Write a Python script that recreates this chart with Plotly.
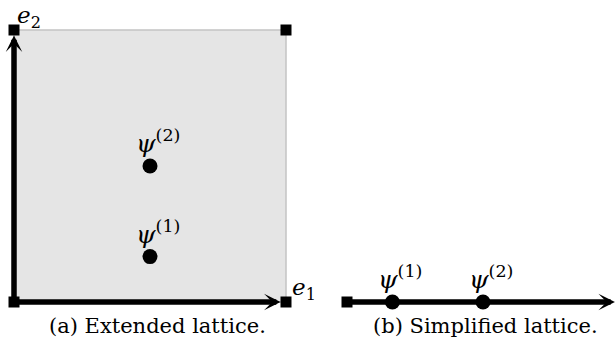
import plotly.graph_objects as go

# ---- data (lattice units) ----
corner_x = [0, 1, 0, 1]
corner_y = [0, 0, 1, 1]
psi_x = [0.5, 0.5]
psi_y = [0.167, 0.5]
psi_labels = ["<i>ψ</i><sup>(1)</sup>", "<i>ψ</i><sup>(2)</sup>"]
axis_labels = ["<i>e</i><sub>1</sub>", "<i>e</i><sub>2</sub>"]
line_start = [0]
line_end = 0.985
captions = ["(a) Extended lattice.", "(b) Simplified lattice."]

SERIF = "DejaVu Serif"

fig = go.Figure()

fig.add_trace(go.Scatter(x=corner_x, y=corner_y, mode="markers", xaxis="x", yaxis="y",
                         marker=dict(symbol="square", size=11, color="black"),
                         showlegend=False, hoverinfo="skip"))
fig.add_trace(go.Scatter(x=psi_x, y=psi_y, mode="markers", xaxis="x", yaxis="y",
                         marker=dict(symbol="circle", size=15, color="black"),
                         showlegend=False, hoverinfo="skip"))
fig.add_trace(go.Scatter(x=line_start, y=[0], mode="markers", xaxis="x2", yaxis="y",
                         marker=dict(symbol="square", size=11, color="black"),
                         showlegend=False, hoverinfo="skip"))
fig.add_trace(go.Scatter(x=psi_y, y=[0] * len(psi_y), mode="markers", xaxis="x2", yaxis="y",
                         marker=dict(symbol="circle", size=15, color="black"),
                         showlegend=False, hoverinfo="skip"))

fig.add_shape(type="rect", xref="x", yref="y", x0=0, x1=1, y0=0, y1=1,
              fillcolor="#e5e5e5", line=dict(color="#c4c4c4", width=1.5), layer="below")

ann = []
arrow_style = dict(showarrow=True, arrowhead=3, arrowsize=0.5, arrowwidth=5.5,
                   arrowcolor="black", text="", standoff=0)
ann.append(dict(x=0, y=0.98, ax=0, ay=0, xref="x", yref="y", axref="x", ayref="y", **arrow_style))
ann.append(dict(x=0.98, y=0, ax=0, ay=0, xref="x", yref="y", axref="x", ayref="y", **arrow_style))
ann.append(dict(x=line_end, y=0, ax=0, ay=0, xref="x2", yref="y", axref="x2", ayref="y", **arrow_style))

ann.append(dict(x=1, y=0, xref="x", yref="y", text=axis_labels[0], showarrow=False,
                xanchor="left", yanchor="middle", xshift=4, yshift=13,
                font=dict(family=SERIF, size=23, color="black")))
ann.append(dict(x=0, y=1, xref="x", yref="y", text=axis_labels[1], showarrow=False,
                xanchor="left", yanchor="middle", xshift=1, yshift=13,
                font=dict(family=SERIF, size=23, color="black")))

for px, py, lab in zip(psi_x, psi_y, psi_labels):
    ann.append(dict(x=px, y=py, xref="x", yref="y", text=lab, showarrow=False,
                    xanchor="center", yanchor="bottom", xshift=8, yshift=6,
                    font=dict(family=SERIF, size=25, color="black")))
for pt, lab in zip(psi_y, psi_labels):
    ann.append(dict(x=pt, y=0, xref="x2", yref="y", text=lab, showarrow=False,
                    xanchor="center", yanchor="bottom", xshift=8, yshift=6,
                    font=dict(family=SERIF, size=25, color="black")))

for cx, cap in zip([157 / 615, 485 / 615], captions):
    ann.append(dict(x=cx, y=1 - 326 / 340, xref="paper", yref="paper", text=cap,
                    showarrow=False, xanchor="center", yanchor="middle",
                    font=dict(family=SERIF, size=21, color="black")))

hidden = dict(visible=False, showgrid=False, zeroline=False, fixedrange=True)
fig.update_layout(
    width=615, height=340,
    margin=dict(l=0, r=0, t=0, b=0),
    paper_bgcolor="white", plot_bgcolor="white",
    xaxis=dict(range=[-14 / 272, 601 / 272], domain=[0, 1], **hidden),
    xaxis2=dict(range=[-347 / 272, 268 / 272], domain=[0, 1], overlaying="x", anchor="y", **hidden),
    yaxis=dict(range=[-38 / 272, 302 / 272], domain=[0, 1], **hidden),
    annotations=ann,
    showlegend=False,
)

fig.write_html("out.html", config={"displayModeBar": False})
with open("out.html", encoding="utf-8") as f:
    html = f.read()
html = html.replace("<body>", '<body style="margin:0;padding:0;overflow:hidden">', 1)
with open("out.html", "w", encoding="utf-8") as f:
    f.write(html)
